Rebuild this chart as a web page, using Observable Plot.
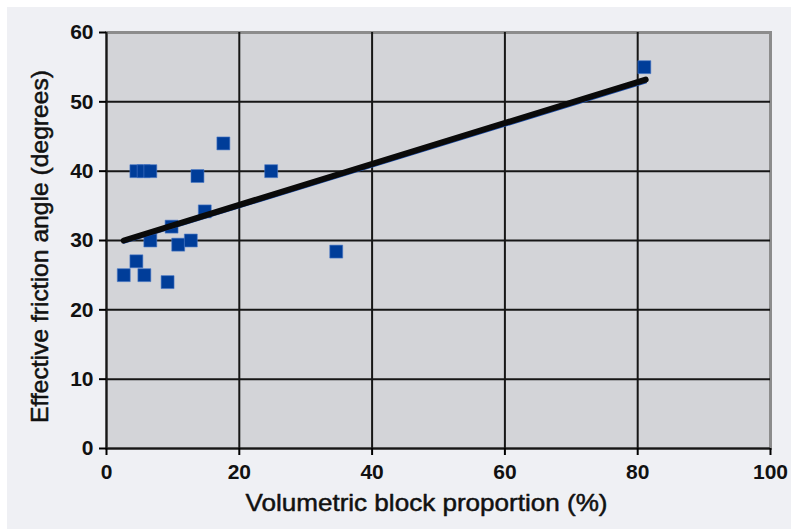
<!DOCTYPE html>
<html>
<head>
<meta charset="utf-8">
<script src="https://cdn.jsdelivr.net/npm/d3@7"></script>
<script src="https://cdn.jsdelivr.net/npm/@observablehq/plot@0.6"></script>
<style>
  html, body { margin: 0; padding: 0; background: #ffffff; }
  #wrap { position: absolute; left: 7px; top: 7px; width: 784px; height: 522px; background: #eff0f4; }
  svg { font-family: "Liberation Sans", Arial, sans-serif; }
</style>
</head>
<body>
<div id="wrap"></div>
<script>
// Data
const blockProportion = [2.6, 4.5, 5.7, 4.5, 5.6, 6.6, 6.6, 9.2, 9.8, 10.8, 12.7, 13.7, 14.8, 17.6, 24.8, 34.6, 81];
const frictionAngle   = [25, 27, 25, 40, 40, 40, 30, 24, 32, 29.4, 30, 39.3, 34.2, 44, 40, 28.4, 55];
const trendX      = [2.6, 81.2];
const trendY      = [30.0, 53.2];
const trendBlueY  = [29.7, 52.8];
const xTicks = [0, 20, 40, 60, 80, 100];
const yTicks = [0, 10, 20, 30, 40, 50, 60];
const xGrid = [20, 40, 60, 80];
const yGrid = [10, 20, 30, 40, 50];
const xLabel = "Volumetric block proportion (%)";
const yLabel = "Effective friction angle (degrees)";

const points = blockProportion.map((x, i) => ({x, y: frictionAngle[i]}));
const trend = trendX.map((x, i) => ({x, y: trendY[i]}));
const trendBlue = trendX.map((x, i) => ({x, y: trendBlueY[i]}));

const chart = Plot.plot({
  width: 784,
  height: 522,
  marginLeft: 99,
  marginRight: 21,
  marginTop: 25,
  marginBottom: 81,
  style: { background: "transparent", fontFamily: "Liberation Sans, Arial, sans-serif" },
  x: { domain: [0, 100] },
  y: { domain: [0, 60] },
  marks: [
    Plot.frame({ fill: "#d3d4d8", stroke: "#8c8c8c", strokeWidth: 3 }),
    Plot.ruleX(xGrid, { stroke: "#161616", strokeWidth: 2 }),
    Plot.ruleY(yGrid, { stroke: "#161616", strokeWidth: 2 }),
    Plot.ruleX([0], { stroke: "#161616", strokeWidth: 2 }),
    Plot.ruleY([0], { stroke: "#161616", strokeWidth: 2 }),
    Plot.axisX({ ticks: xTicks, tickSize: 7, tickPadding: 9, label: null, fontSize: 21, fontWeight: "bold", fill: "#111", tickFormat: d => String(d), strokeWidth: 2 }),
    Plot.axisY({ ticks: yTicks, tickSize: 7, tickPadding: 6, label: null, fontSize: 21, fontWeight: "bold", fill: "#111", tickFormat: d => String(d), strokeWidth: 2 }),
    Plot.dot(points, { x: "x", y: "y", symbol: "square", r: 7.3, fill: "#003d99", stroke: "#4a78c8", strokeWidth: 0.6 }),
    Plot.line(trendBlue, { x: "x", y: "y", stroke: "#1f4fa8", strokeWidth: 2.5 }),
    Plot.line(trend, { x: "x", y: "y", stroke: "#0a0a0a", strokeWidth: 6 }),
    Plot.text([xLabel], { frameAnchor: "bottom", dy: 55, dx: -12, fontSize: 24, fill: "#111", stroke: "#111", strokeWidth: 0.5, lineAnchor: "middle", textAnchor: "middle" }),
    Plot.text([yLabel], { frameAnchor: "left", rotate: -90, dx: -66, dy: 6, fontSize: 24, fill: "#111", stroke: "#111", strokeWidth: 0.5, lineAnchor: "middle", textAnchor: "middle" })
  ]
});
document.getElementById("wrap").appendChild(chart);
// stretch the axis titles to the reference's text widths
chart.querySelectorAll("text").forEach(t => {
  if (t.textContent === xLabel) { t.setAttribute("textLength", 362); t.setAttribute("lengthAdjust", "spacingAndGlyphs"); }
  if (t.textContent === yLabel) { t.setAttribute("textLength", 353); t.setAttribute("lengthAdjust", "spacingAndGlyphs"); }
});
</script>
</body>
</html>
